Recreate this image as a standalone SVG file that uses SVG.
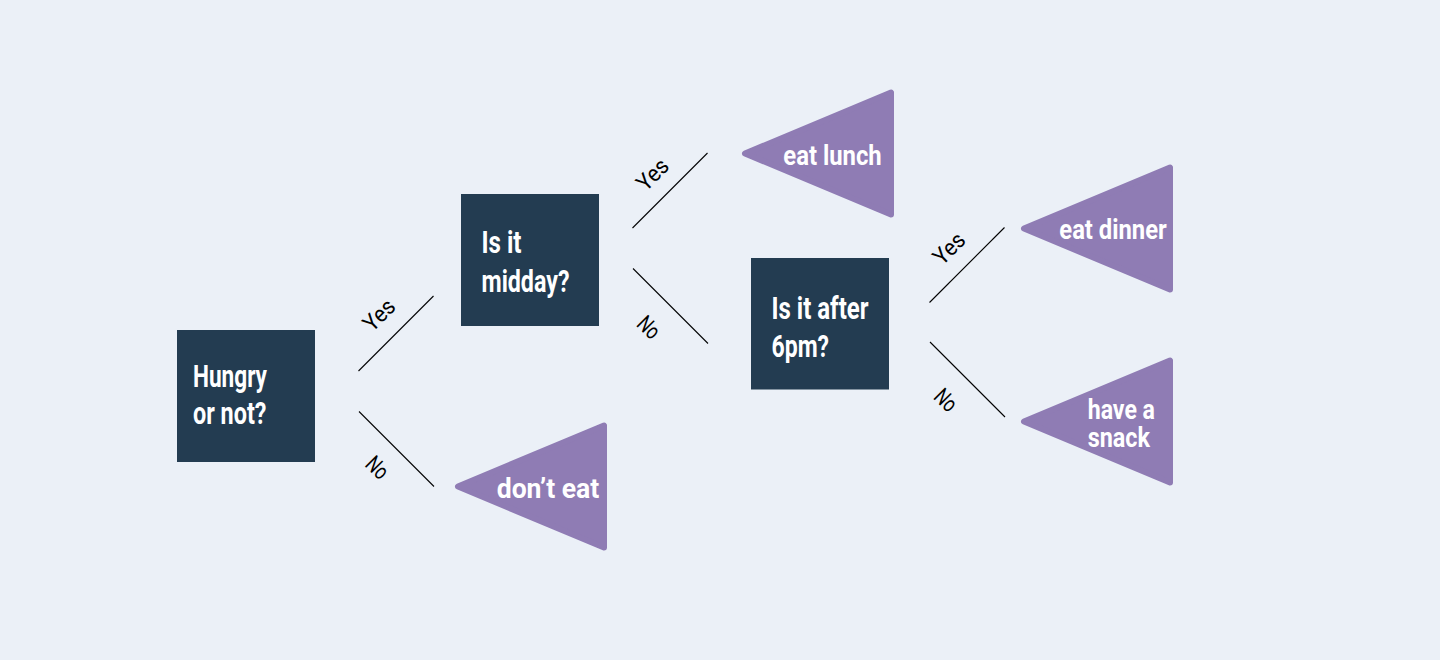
<svg xmlns="http://www.w3.org/2000/svg" width="1440" height="660" viewBox="0 0 1440 660">
  <style>
    .bg { fill: #EBF0F7; }
    .box { fill: #233C51; }
    .tri { fill: #8F7CB4; stroke: #8F7CB4; stroke-width: 6; stroke-linejoin: round; }
    .ntext { font-family: Roboto, "Liberation Sans", sans-serif; font-weight: 700; font-size: 31px; fill: #FFFFFF; }
    .ttext { font-family: Roboto, "Liberation Sans", sans-serif; font-weight: 700; font-size: 28px; fill: #FFFFFF; }
    .conn { stroke: #000000; stroke-width: 1.1; fill: none; }
    .lbl { font-family: Roboto, "Liberation Sans", sans-serif; font-weight: 400; font-size: 23px; fill: #000000; text-anchor: middle; }
  </style>
  <defs>
    <polygon id="tri" class="tri" points="5,65.5 151,4.5 151,126.5"/>
  </defs>
  <rect class="bg" x="0" y="0" width="1440" height="660"/>

  <g id="connectors">
    <line class="conn" x1="358.5" y1="371" x2="433.5" y2="296"/>
    <line class="conn" x1="359" y1="411.5" x2="434" y2="486.5"/>
    <line class="conn" x1="632.5" y1="228" x2="707.5" y2="153"/>
    <line class="conn" x1="633" y1="268.5" x2="708" y2="343.5"/>
    <line class="conn" x1="929.5" y1="302.5" x2="1004.5" y2="227.5"/>
    <line class="conn" x1="930" y1="342" x2="1005" y2="417"/>
    <text class="lbl" transform="translate(379,314.7) rotate(-45)" x="0" y="8" textLength="35" lengthAdjust="spacingAndGlyphs">Yes</text>
    <text class="lbl" transform="translate(377.5,467.5) rotate(45)" x="0" y="8" textLength="22" lengthAdjust="spacingAndGlyphs">No</text>
    <text class="lbl" transform="translate(652.5,174.2) rotate(-45)" x="0" y="8" textLength="35" lengthAdjust="spacingAndGlyphs">Yes</text>
    <text class="lbl" transform="translate(649,327.3) rotate(45)" x="0" y="8" textLength="22" lengthAdjust="spacingAndGlyphs">No</text>
    <text class="lbl" transform="translate(949,248.3) rotate(-45)" x="0" y="8" textLength="35" lengthAdjust="spacingAndGlyphs">Yes</text>
    <text class="lbl" transform="translate(946,400) rotate(45)" x="0" y="8" textLength="22" lengthAdjust="spacingAndGlyphs">No</text>
  </g>

  <g id="node-hungry">
    <rect class="box" x="177" y="330" width="138" height="132"/>
    <text class="ntext" x="193" y="387" textLength="74" lengthAdjust="spacingAndGlyphs">Hungry</text>
    <text class="ntext" x="193" y="423.5" textLength="73.5" lengthAdjust="spacingAndGlyphs">or not?</text>
  </g>

  <g id="node-midday">
    <rect class="box" x="461" y="194" width="138" height="132"/>
    <text class="ntext" x="481.5" y="253.3" textLength="40" lengthAdjust="spacingAndGlyphs">Is it</text>
    <text class="ntext" x="481.5" y="291.5" textLength="88" lengthAdjust="spacingAndGlyphs">midday?</text>
  </g>

  <g id="node-after6">
    <rect class="box" x="751" y="258" width="138" height="131.5"/>
    <text class="ntext" x="771.5" y="319" textLength="97" lengthAdjust="spacingAndGlyphs">Is it after</text>
    <text class="ntext" x="771.5" y="357" textLength="57.5" lengthAdjust="spacingAndGlyphs">6pm?</text>
  </g>

  <g id="node-dont-eat">
    <use href="#tri" transform="translate(453,421)"/>
    <text class="ttext" x="496.7" y="498" textLength="102.6" lengthAdjust="spacingAndGlyphs">don’t eat</text>
  </g>

  <g id="node-eat-lunch">
    <use href="#tri" transform="translate(740,88)"/>
    <text class="ttext" x="783.3" y="165" textLength="98.4" lengthAdjust="spacingAndGlyphs">eat lunch</text>
  </g>

  <g id="node-eat-dinner">
    <use href="#tri" transform="translate(1019,163)"/>
    <text class="ttext" x="1059.3" y="239.3" textLength="107.4" lengthAdjust="spacingAndGlyphs">eat dinner</text>
  </g>

  <g id="node-snack">
    <use href="#tri" transform="translate(1019,356)"/>
    <text class="ttext" x="1087.7" y="419.3" textLength="67.3" lengthAdjust="spacingAndGlyphs">have a</text>
    <text class="ttext" x="1087.7" y="446.7" textLength="62.3" lengthAdjust="spacingAndGlyphs">snack</text>
  </g>
</svg>
